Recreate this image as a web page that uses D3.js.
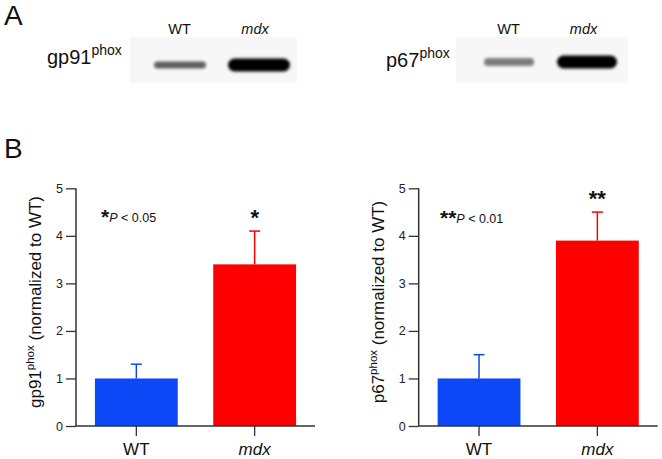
<!DOCTYPE html>
<html>
<head>
<meta charset="utf-8">
<script src="https://cdn.jsdelivr.net/npm/d3@7"></script>
<style>
  html, body { margin: 0; padding: 0; background: #fff; }
  svg { display: block; font-family: "Liberation Sans", Arial, Helvetica, sans-serif; }
</style>
</head>
<body>
<svg id="chart" width="662" height="459"></svg>
<script>
// ---- data ----
const groups = ["WT", "mdx"];
const gp91Means = [1.0, 3.4];
const gp91Errors = [0.3, 0.7];
const p67Means = [1.0, 3.9];
const p67Errors = [0.5, 0.6];
const yTicks = [0, 1, 2, 3, 4, 5];
const gp91Stars = ["", "*"];
const p67Stars = ["", "**"];
const gp91Note = ["*", "P < 0.05"];
const p67Note = ["**", "P < 0.01"];
const blotLanes = ["WT", "mdx"];
const gp91BandIntensity = [0.62, 1.0];
const p67BandIntensity = [0.5, 1.0];
const gp91BandThickness = [7, 13];
const p67BandThickness = [8, 13];
const barColors = ["#0c48f6", "#fe0000"];

const svg = d3.select("#chart");
const defs = svg.append("defs");
defs.append("filter").attr("id", "blur").attr("x", "-20%").attr("y", "-80%")
  .attr("width", "140%").attr("height", "260%")
  .append("feGaussianBlur").attr("stdDeviation", "1.8 1.6");

// Panel letters
svg.append("text").attr("x", 4).attr("y", 25).attr("font-size", 28).attr("fill", "#111").text("A");
svg.append("text").attr("x", 4).attr("y", 158).attr("font-size", 28).attr("fill", "#111").text("B");

// ---- Western blots ----
function blot(cfg) {
  const g = svg.append("g");
  g.append("rect").attr("x", cfg.bg[0]).attr("y", 37).attr("width", cfg.bg[1] - cfg.bg[0])
    .attr("height", 46).attr("fill", "#f7f7f7");
  const x = d3.scalePoint().domain(blotLanes).range(cfg.lanes);
  const op = d3.scaleLinear().domain([0, 1]).range([0, 1]);
  g.selectAll("rect.band").data(blotLanes).join("rect").attr("class", "band")
    .attr("x", (d, i) => x(d) - cfg.widths[i] / 2)
    .attr("y", (d, i) => cfg.cy - cfg.thick[i] / 2)
    .attr("width", (d, i) => cfg.widths[i])
    .attr("height", (d, i) => cfg.thick[i])
    .attr("rx", (d, i) => cfg.thick[i] / 2)
    .attr("fill", "#000")
    .attr("fill-opacity", (d, i) => op(cfg.intensity[i]))
    .attr("filter", "url(#blur)");
  const xl = d3.scalePoint().domain(blotLanes).range(cfg.labels);
  g.selectAll("text.lane").data(blotLanes).join("text").attr("class", "lane")
    .attr("x", d => xl(d)).attr("y", cfg.labelY).attr("text-anchor", "middle")
    .attr("font-size", 14.5).attr("fill", "#111")
    .attr("font-style", d => d === "mdx" ? "italic" : "normal")
    .text(d => d);
  const t = g.append("text").attr("x", cfg.nameX).attr("y", cfg.nameY).attr("font-size", 20).attr("fill", "#111");
  t.append("tspan").text(cfg.name);
  t.append("tspan").attr("font-size", 14).attr("dy", -9).text("phox");
}
blot({ bg: [130, 297], lanes: [180, 259], widths: [52, 62], thick: gp91BandThickness,
  intensity: gp91BandIntensity, cy: 65, labels: [179.5, 255], labelY: 34,
  name: "gp91", nameX: 47, nameY: 64 });
blot({ bg: [456, 628], lanes: [509, 587], widths: [50, 60], thick: p67BandThickness,
  intensity: p67BandIntensity, cy: 62, labels: [508.5, 583.5], labelY: 34,
  name: "p67", nameX: 386, nameY: 67 });

// ---- Bar charts ----
function barChart(cfg) {
  const g = svg.append("g");
  const y = d3.scaleLinear().domain([0, 5]).range([426, 188.3]);
  const x = d3.scaleBand().domain(groups).range([cfg.x0, cfg.x0 + 239])
    .paddingInner(0.3).paddingOuter(0.16);
  const axisColor = "#333";

  // bars
  g.selectAll("rect.bar").data(groups).join("rect").attr("class", "bar")
    .attr("x", d => x(d)).attr("width", x.bandwidth())
    .attr("y", (d, i) => y(cfg.means[i]))
    .attr("height", (d, i) => y(0) - y(cfg.means[i]))
    .attr("fill", (d, i) => barColors[i]);

  // error bars
  const cap = 11;
  g.selectAll("line.err").data(groups).join("line").attr("class", "err")
    .attr("x1", d => x(d) + x.bandwidth() / 2).attr("x2", d => x(d) + x.bandwidth() / 2)
    .attr("y1", (d, i) => y(cfg.means[i])).attr("y2", (d, i) => y(cfg.means[i] + cfg.errs[i]))
    .attr("stroke", (d, i) => barColors[i]).attr("stroke-width", 1.5);
  g.selectAll("line.cap").data(groups).join("line").attr("class", "cap")
    .attr("x1", d => x(d) + x.bandwidth() / 2 - cap / 2).attr("x2", d => x(d) + x.bandwidth() / 2 + cap / 2)
    .attr("y1", (d, i) => y(cfg.means[i] + cfg.errs[i])).attr("y2", (d, i) => y(cfg.means[i] + cfg.errs[i]))
    .attr("stroke", (d, i) => barColors[i]).attr("stroke-width", 1.5);

  // y axis
  const yAxis = g.append("g").attr("transform", `translate(${cfg.x0},0)`)
    .call(d3.axisLeft(y).tickValues(yTicks).tickFormat(d3.format("d")).tickSize(10).tickPadding(3));
  yAxis.select(".domain").attr("stroke", axisColor).attr("stroke-width", 1.5).attr("d", `M0,${y(5)}V${y(0)}`);
  yAxis.selectAll(".tick line").attr("stroke", axisColor).attr("stroke-width", 1.3);
  yAxis.selectAll(".tick text").attr("fill", "#222").attr("font-size", 12.5)
    .attr("font-family", "Liberation Sans, Arial, sans-serif");

  // x axis
  const xAxis = g.append("g").attr("transform", `translate(0,${y(0)})`)
    .call(d3.axisBottom(x).tickSize(10).tickPadding(7));
  xAxis.select(".domain").attr("stroke", axisColor).attr("stroke-width", 1.5)
    .attr("d", `M${cfg.x0},0H${cfg.x0 + 239}`);
  xAxis.selectAll(".tick line").attr("stroke", axisColor).attr("stroke-width", 1.3);
  xAxis.selectAll(".tick text").attr("fill", "#111").attr("font-size", 17)
    .attr("font-family", "Liberation Sans, Arial, sans-serif")
    .attr("font-style", d => d === "mdx" ? "italic" : "normal");

  // y label
  const lbl = g.append("text")
    .attr("transform", `translate(${cfg.labelX},302) rotate(-90)`)
    .attr("text-anchor", "middle").attr("font-size", 17).attr("fill", "#111");
  lbl.append("tspan").text(cfg.name);
  lbl.append("tspan").attr("font-size", 11.5).attr("dy", -7).text("phox");
  lbl.append("tspan").attr("dy", 7).text(" (normalized to WT)");

  // significance stars above bars
  g.selectAll("text.star").data(groups).join("text").attr("class", "star")
    .attr("x", d => x(d) + x.bandwidth() / 2)
    .attr("y", (d, i) => y(cfg.means[i] + cfg.errs[i]) - 6)
    .attr("text-anchor", "middle").attr("font-size", 22).attr("font-weight", "bold").attr("fill", "#111")
    .text((d, i) => cfg.stars[i]);

  // note
  const note = g.append("text").attr("x", cfg.noteX).attr("y", cfg.noteY).attr("fill", "#111");
  note.append("tspan").attr("font-size", 21).attr("font-weight", "bold").attr("dy", 2).text(cfg.note[0]);
  const rest = cfg.note[1].split(" ");
  note.append("tspan").attr("font-size", 12.5).attr("font-style", "italic").attr("dy", -2).text(rest[0]);
  note.append("tspan").attr("font-size", 12.5).text(" " + rest.slice(1).join(" "));
}

barChart({ x0: 76, means: gp91Means, errs: gp91Errors, stars: gp91Stars, note: gp91Note,
  name: "gp91", labelX: 41, noteX: 101, noteY: 222 });
barChart({ x0: 418.7, means: p67Means, errs: p67Errors, stars: p67Stars, note: p67Note,
  name: "p67", labelX: 384, noteX: 440, noteY: 223 });
</script>
</body>
</html>
